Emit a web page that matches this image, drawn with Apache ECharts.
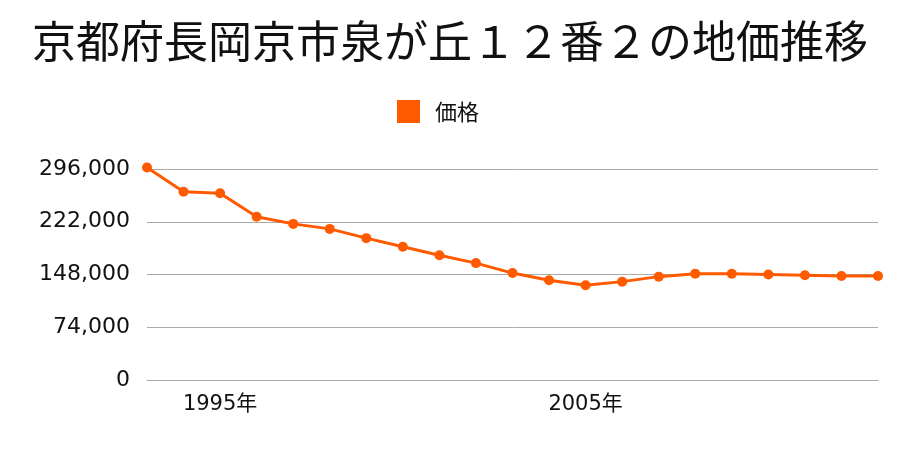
<!DOCTYPE html>
<html>
<head>
<meta charset="utf-8">
<script src="https://cdn.jsdelivr.net/npm/echarts@6/dist/echarts.min.js"></script>
<style>html,body{margin:0;padding:0;background:#fff}#c{width:900px;height:450px}</style>
</head>
<body>
<div id="c"></div>
<script>
const titleText = '京都府長岡京市泉が丘１２番２の地価推移';
const seriesName = '価格';
const years = ['1993','1994','1995','1996','1997','1998','1999','2000','2001','2002','2003','2004','2005','2006','2007','2008','2009','2010','2011','2012','2013'];
const prices = [298000,264000,262000,229000,219000,212000,199000,187000,175000,164000,150000,140000,133000,138000,145000,149000,149000,148000,147000,146000,146000];
const yTicks = [0,74000,148000,222000,296000];
const shownYears = ['1995','2005'];

const font = '"Noto Sans CJK JP", sans-serif';
const numFont = '"DejaVu Sans", "Noto Sans CJK JP", sans-serif';
const chart = echarts.init(document.getElementById('c'), null, {renderer:'canvas'});
chart.setOption({
  animation:false,
  textStyle:{fontFamily:font},
  title:{text:titleText,left:'center',top:14,textStyle:{fontSize:44,fontWeight:'normal',color:'#111',fontFamily:font}},
  legend:{data:[seriesName],top:100,left:397,padding:0,itemWidth:23,itemHeight:23,icon:'rect',itemGap:10,
    textStyle:{fontSize:22,color:'#111',fontFamily:font,padding:[0,0,0,10]}},
  grid:{left:147,right:22,top:169,bottom:70,containLabel:false},
  xAxis:{type:'category',data:years,boundaryGap:false,
    axisLine:{lineStyle:{color:'#aaa',width:1}},axisTick:{show:false},
    axisLabel:{interval:(i,v)=>shownYears.includes(v),formatter:v=>v+'年',fontSize:21,color:'#111',margin:14,fontFamily:numFont},
    splitLine:{show:false}},
  yAxis:{type:'value',min:yTicks[0],max:yTicks[yTicks.length-1],interval:74000,
    axisLine:{show:false},axisTick:{show:false},
    axisLabel:{fontSize:22,color:'#111',margin:17,fontFamily:numFont,formatter:v=>v.toLocaleString('en-US')},
    splitLine:{lineStyle:{color:'#aaa',width:1}}},
  series:[{name:seriesName,type:'line',data:prices,color:'#ff5a00',clip:false,
    symbol:'circle',symbolSize:10,lineStyle:{width:3,color:'#ff5a00'},itemStyle:{color:'#ff5a00'}}]
});
</script>
</body>
</html>
